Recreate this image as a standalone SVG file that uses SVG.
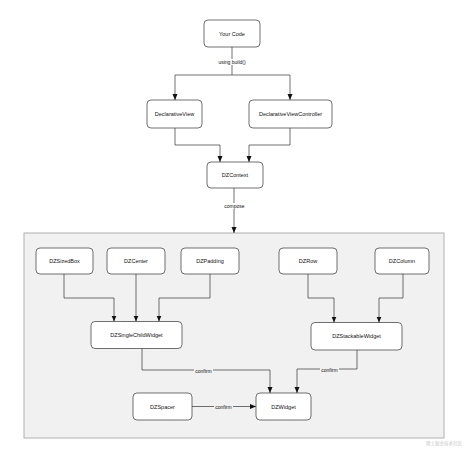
<svg xmlns="http://www.w3.org/2000/svg" width="474" height="451" viewBox="0 0 474 451">
<style>
.n rect{fill:#fff;stroke:#333;stroke-width:0.7}
.t{font-family:"Liberation Sans",Arial,sans-serif;font-size:5.5px;fill:#111;text-anchor:middle;dominant-baseline:central}
.e path{fill:none;stroke:#333;stroke-width:0.7}
.lb{font-family:"Liberation Sans",Arial,sans-serif;font-size:5px;fill:#111;text-anchor:middle;dominant-baseline:central}
</style>
<defs>
<marker id="ah" viewBox="0 0 6 6" refX="6" refY="3" markerWidth="6" markerHeight="6" markerUnits="userSpaceOnUse" orient="auto">
<path d="M0,0.5 L6,3 L0,5.5 Z" fill="#111"/>
</marker>
</defs>
<rect width="474" height="451" fill="#fff"/>
<g id="container"><rect x="24" y="233" width="420" height="205" fill="#f1f1f1" stroke="#b0b0b0" stroke-width="1"/></g>
<g class="e" id="connectors">
<path d="M232,47 V75 M175,75 H290 M175,75 V100" marker-end="url(#ah)"/>
<path d="M290,75 V100" marker-end="url(#ah)"/>
<path d="M175,128 V145 H220 V162" marker-end="url(#ah)"/>
<path d="M290,128 V145 H249 V162" marker-end="url(#ah)"/>
<path d="M234,188 V233" marker-end="url(#ah)"/>
<path d="M64,274 V298 H114 V321.5" marker-end="url(#ah)"/>
<path d="M136,274 V321.5" marker-end="url(#ah)"/>
<path d="M210,274 V298 H159 V321.5" marker-end="url(#ah)"/>
<path d="M308,274 V298 H334 V322.5" marker-end="url(#ah)"/>
<path d="M403,274 V298 H379 V322.5" marker-end="url(#ah)"/>
<path d="M142,348 V370 H270 V393" marker-end="url(#ah)"/>
<path d="M357,350 V369 H297 V393" marker-end="url(#ah)"/>
<path d="M192,406.5 H256" marker-end="url(#ah)"/>
<rect x="218" y="59" width="28" height="6" fill="#fff" stroke="none"/>
<text class="lb" x="232" y="62">using build()</text>
<rect x="224" y="203" width="21" height="6" fill="#fff" stroke="none"/>
<text class="lb" x="234.5" y="206">compose</text>
<rect x="194" y="367" width="19" height="6" fill="#f1f1f1" stroke="none"/>
<text class="lb" x="203.5" y="370.5">confirm</text>
<rect x="320" y="366" width="19" height="6" fill="#f1f1f1" stroke="none"/>
<text class="lb" x="329.5" y="369.5">confirm</text>
<rect x="214" y="404" width="19" height="6" fill="#f1f1f1" stroke="none"/>
<text class="lb" x="223.5" y="407">confirm</text>
</g>
<g class="n" id="your-code"><rect x="204" y="20" width="56" height="27" rx="4"/><text class="t" x="232" y="33.5">Your Code</text></g>
<g class="n" id="declarative-view"><rect x="147" y="100" width="55" height="28" rx="4"/><text class="t" x="174.5" y="114">DeclarativeView</text></g>
<g class="n" id="declarative-view-controller"><rect x="249" y="100" width="83" height="28" rx="4"/><text class="t" x="290.5" y="114">DeclarativeViewController</text></g>
<g class="n" id="dzcontext"><rect x="207" y="162" width="56" height="26" rx="4"/><text class="t" x="235" y="175">DZContext</text></g>
<g class="n" id="dzsizedbox"><rect x="36" y="248" width="57" height="26" rx="4"/><text class="t" x="64.5" y="261">DZSizedBox</text></g>
<g class="n" id="dzcenter"><rect x="107" y="248" width="58" height="26" rx="4"/><text class="t" x="136" y="261">DZCenter</text></g>
<g class="n" id="dzpadding"><rect x="181" y="248" width="58" height="26" rx="4"/><text class="t" x="210" y="261">DZPadding</text></g>
<g class="n" id="dzrow"><rect x="279" y="248" width="58" height="26" rx="4"/><text class="t" x="308" y="261">DZRow</text></g>
<g class="n" id="dzcolumn"><rect x="375" y="248" width="54" height="26" rx="4"/><text class="t" x="402" y="261">DZColumn</text></g>
<g class="n" id="dzsinglechildwidget"><rect x="91" y="321.5" width="91" height="27" rx="4"/><text class="t" x="136.5" y="335">DZSingleChildWidget</text></g>
<g class="n" id="dzstackablewidget"><rect x="311" y="322.5" width="91" height="27.5" rx="4"/><text class="t" x="356.5" y="336">DZStackableWidget</text></g>
<g class="n" id="dzspacer"><rect x="133" y="393" width="59" height="27" rx="4"/><text class="t" x="162.5" y="406.5">DZSpacer</text></g>
<g class="n" id="dzwidget"><rect x="256" y="393" width="55" height="27" rx="4"/><text class="t" x="283.5" y="406.5">DZWidget</text></g>
<text x="444" y="443" font-family="'Noto Sans CJK SC',sans-serif" font-size="4.5" fill="#c8c8c8" text-anchor="middle" dominant-baseline="central">稀土掘金技术社区</text>
</svg>
